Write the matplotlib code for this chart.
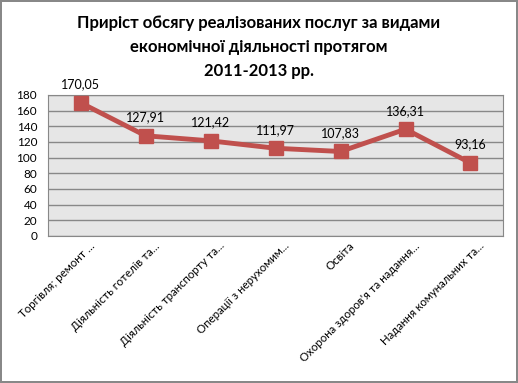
import matplotlib.pyplot as plt
import matplotlib.transforms as mtransforms

plt.rcParams['font.family'] = ['Lato', 'DejaVu Sans']

categories = [
    "Торгівля; ремонт ...",
    "Діяльність готелів та...",
    "Діяльність транспорту та...",
    "Операції з нерухомим...",
    "Освіта",
    "Охорона здоров'я та надання...",
    "Надання комунальних та...",
]
values = [170.05, 127.91, 121.42, 111.97, 107.83, 136.31, 93.16]
yticks = list(range(0, 181, 20))

fig = plt.figure(figsize=(5.18, 3.83), dpi=100)
fig.patch.set_edgecolor("#888888")
fig.patch.set_linewidth(1.5)
ax = fig.add_axes([0.093, 0.384, 0.878, 0.368])
ax.set_facecolor("#e6e6e6")

x = list(range(len(values)))
ax.plot(x, values, color="#c0504d", lw=3.5, marker="s", ms=10, zorder=3)
for xi, v in zip(x, values):
    ax.annotate(f"{v:.2f}".replace(".", ","), (xi, v), xytext=(0, 9),
                textcoords="offset points", ha="center", va="bottom", fontsize=9)

ax.set_xlim(-0.5, len(values) - 0.5)
ax.set_ylim(0, 180)
ax.set_yticks(yticks)
ax.tick_params(axis="y", length=0, labelsize=8.5, pad=8)
ax.tick_params(axis="x", length=0, pad=3)
ax.set_xticks(x)
ax.set_xticklabels(categories, rotation=45, ha="right", rotation_mode="anchor", fontsize=8.3)
shift = mtransforms.ScaledTranslation(6 / 72, 0, fig.dpi_scale_trans)
for lbl in ax.get_xticklabels():
    lbl.set_transform(lbl.get_transform() + shift)
ax.grid(axis="y", color="#888888", lw=1)
ax.set_axisbelow(True)
for s in ax.spines.values():
    s.set_color("#888888")

fig.text(0.5, 0.96, "Приріст обсягу реалізованих послуг за видами\nекономічної діяльності протягом\n2011-2013 рр.",
         ha="center", va="top", fontsize=12, fontweight="bold", linespacing=1.6)

fig.savefig("out.png", dpi=100)
